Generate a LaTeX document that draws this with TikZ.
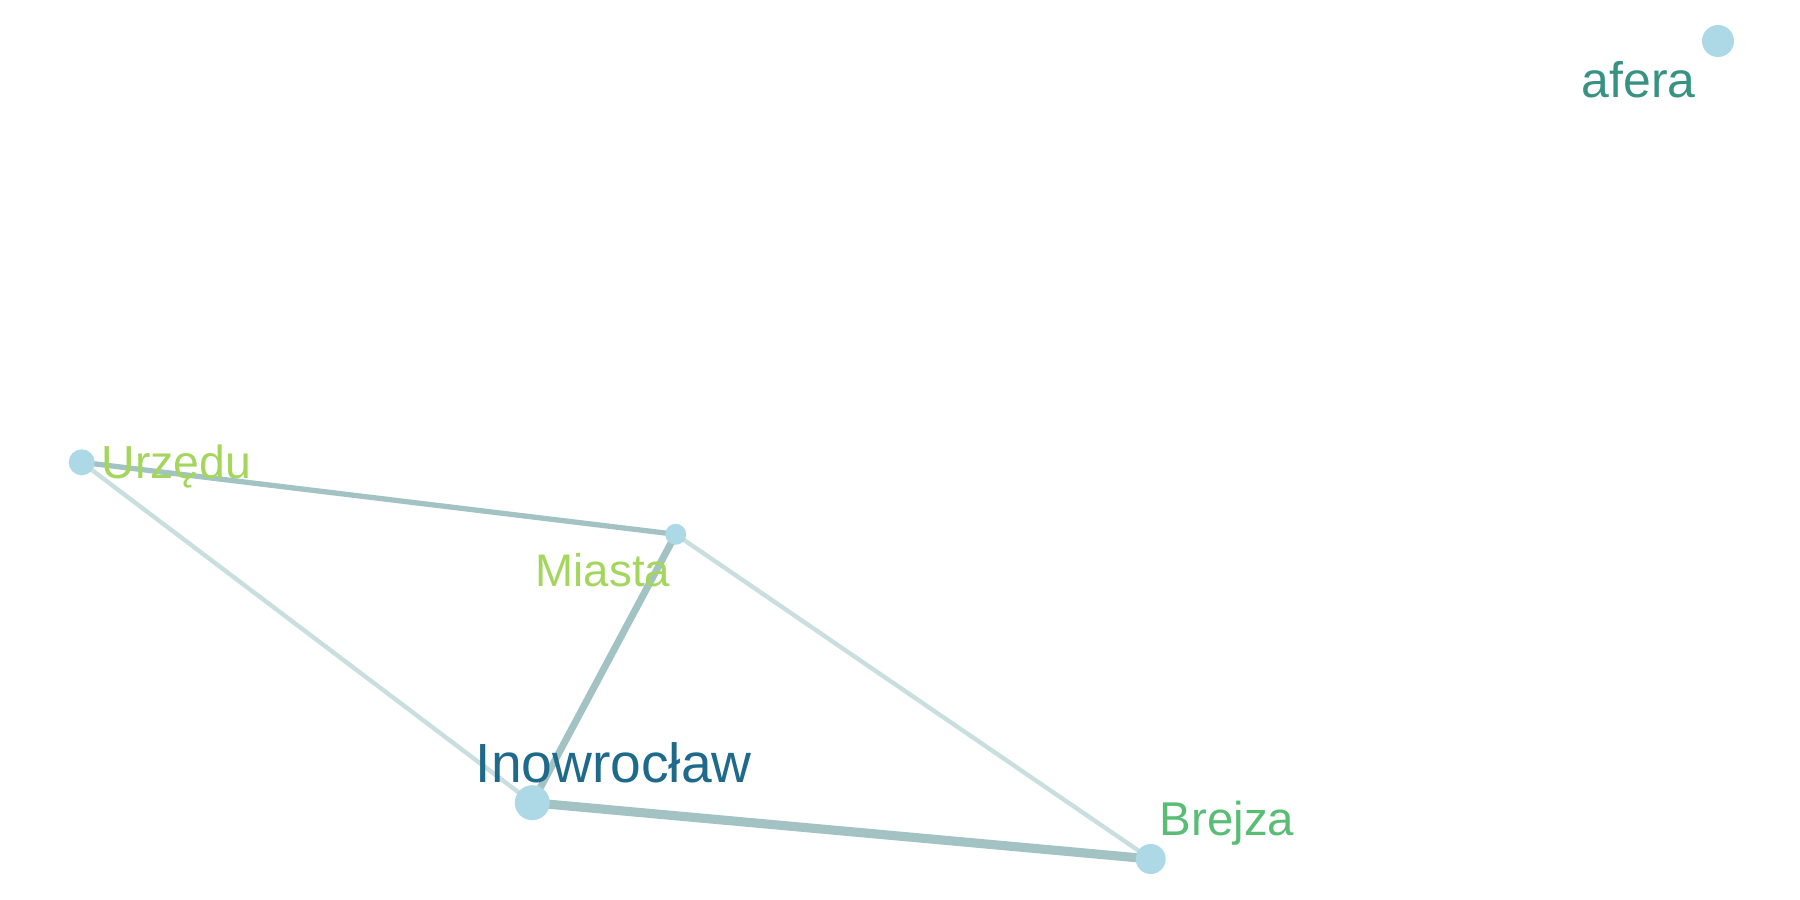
\documentclass[tikz,border=0pt]{standalone}
\usepackage{fontspec}
\setmainfont{Liberation Sans}
\usepackage{tikz}
\usetikzlibrary{positioning,backgrounds}
\definecolor{nodeblue}  {HTML}{ADD8E6}
\definecolor{edgedark}  {HTML}{A2C2C3}
\definecolor{edgelight} {HTML}{C9DEDF}
\definecolor{wordteal}  {HTML}{379282}
\definecolor{wordlime}  {HTML}{A4D65E}
\definecolor{wordnavy}  {HTML}{1F6A8A}
\definecolor{wordgreen} {HTML}{59BD76}

\begin{document}
\begin{tikzpicture}[
  vtx/.style={circle,fill=nodeblue,inner sep=0pt,minimum size=#1},
  word/.style={anchor=base west,inner sep=0pt,font=\fontsize{#1}{#1}\selectfont},
  strong/.style={draw=edgedark,line width=#1},
  weak/.style={draw=edgelight,line width=#1}
]
\useasboundingbox (0,0) rectangle (18,9);
% vertices
\node[vtx=3.2mm] (afera) at (17.18,8.59)  {};
\node[vtx=2.6mm] (urz)   at (0.817,4.377) {};
\node[vtx=2.1mm] (mia)   at (6.757,3.657) {};
\node[vtx=3.5mm] (ino)   at (5.323,0.973) {};
\node[vtx=3.0mm] (bre)   at (11.507,0.41) {};

% edges
\begin{scope}[on background layer]
\path[strong=1.5pt] (urz.center) -- (mia.center);
\path[weak=1.25pt]  (urz.center) -- (ino.center);
\path[strong=2pt]   (mia.center) -- (ino.center);
\path[weak=1.25pt]  (mia.center) -- (bre.center);
\path[strong=2.6pt] (ino.center) -- (bre.center);
\end{scope}

% labels
\node[word=14.2pt,text=wordteal]  (aferaL) at (15.81,8.02) {afera};
\node[word=13.2pt,text=wordlime]  (urzL)   at (1.01,4.21)  {Urzędu};
\node[word=13.0pt,text=wordlime]  (miaL)   at (5.35,3.13)  {Miasta};
\node[word=15.7pt,text=wordnavy]  (inoL)   at (4.75,1.18)  {Inowrocław};
\node[word=13.5pt,text=wordgreen] (breL)   at (11.59,0.64) {Brejza};
\end{tikzpicture}
\end{document}
